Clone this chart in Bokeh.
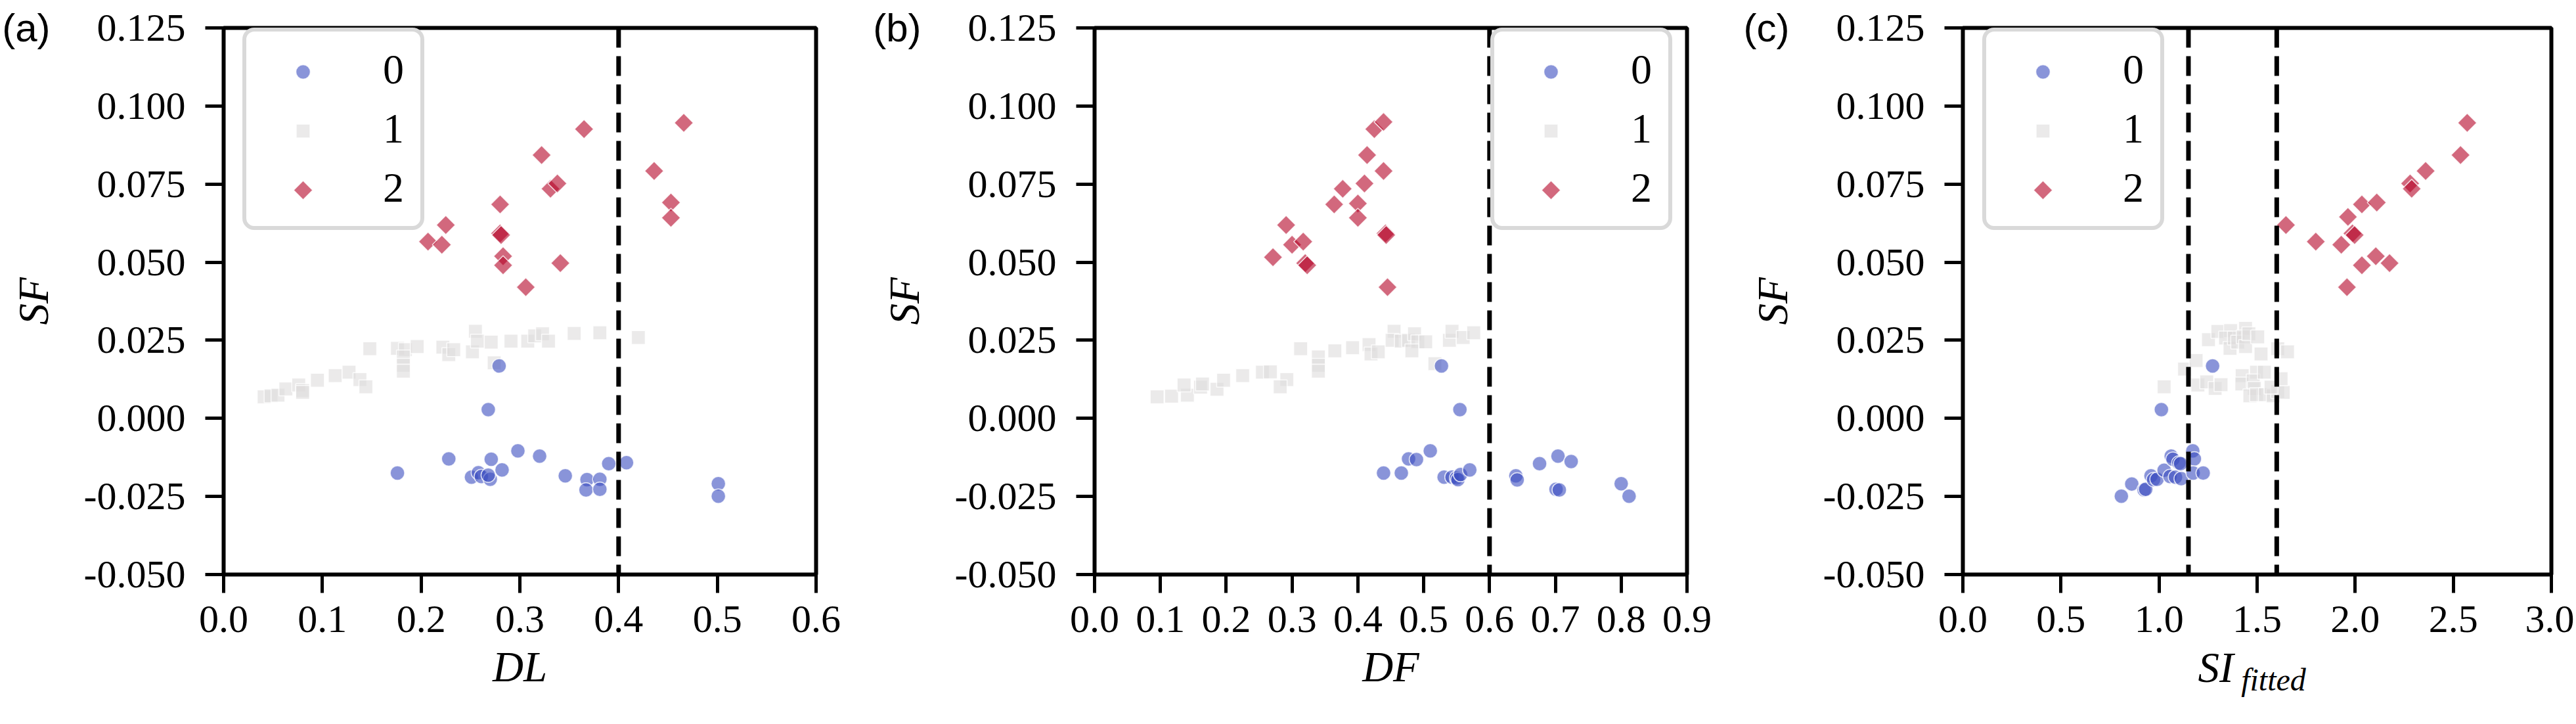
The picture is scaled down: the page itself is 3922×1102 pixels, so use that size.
import numpy as np
from bokeh.plotting import figure
from bokeh.models import (Range1d, FixedTicker, PrintfTickFormatter, Span,
                          Legend, LegendItem, LinearAxis, CustomJSTickFormatter)
from bokeh.layouts import row
from bokeh.embed import file_html
from bokeh.resources import INLINE

# ---------------- data ----------------
CLASS_LABELS = ["0", "1", "2"]
SF_TICKS = [-0.050, -0.025, 0.000, 0.025, 0.050, 0.075, 0.100, 0.125]

# panel (a): DL vs SF
A_X0 = [0.176, 0.228, 0.251, 0.258, 0.261, 0.270, 0.268, 0.271, 0.282, 0.268, 0.279,
        0.298, 0.320, 0.346, 0.368, 0.381, 0.367, 0.381, 0.390, 0.408, 0.501, 0.501]
A_Y0 = [-0.0175, -0.0130, -0.0188, -0.0174, -0.0186, -0.0195, -0.0182, -0.0131, -0.0165, 0.0028, 0.0168,
        -0.0104, -0.0121, -0.0184, -0.0196, -0.0195, -0.0229, -0.0227, -0.0145, -0.0142, -0.0209, -0.0249]
A_X1 = [0.041, 0.048, 0.055, 0.063, 0.076, 0.080, 0.080, 0.095, 0.113, 0.127, 0.138, 0.144,
        0.148, 0.176, 0.184, 0.196, 0.182, 0.182, 0.182, 0.222, 0.228, 0.233, 0.252, 0.255,
        0.257, 0.271, 0.274, 0.291, 0.308, 0.315, 0.323, 0.329, 0.355, 0.381, 0.420]
A_Y1 = [0.0069, 0.0072, 0.0074, 0.0094, 0.0107, 0.0089, 0.0083, 0.0122, 0.0137, 0.0148, 0.0124, 0.0101,
        0.0223, 0.0224, 0.0220, 0.0230, 0.0197, 0.0170, 0.0151, 0.0228, 0.0204, 0.0220, 0.0213, 0.0279,
        0.0247, 0.0244, 0.0178, 0.0247, 0.0247, 0.0264, 0.0271, 0.0247, 0.0272, 0.0274, 0.0259]
A_X2 = [0.207, 0.221, 0.225, 0.280, 0.280, 0.281, 0.283, 0.283, 0.306, 0.322, 0.331, 0.338,
        0.341, 0.365, 0.436, 0.453, 0.453, 0.466]
A_Y2 = [0.0566, 0.0556, 0.0619, 0.0685, 0.0592, 0.0587, 0.0519, 0.0490, 0.0420, 0.0843, 0.0735, 0.0752,
        0.0497, 0.0926, 0.0792, 0.0691, 0.0642, 0.0946]

# panel (b): DF vs SF
B_X0 = [0.439, 0.466, 0.477, 0.489, 0.510, 0.531, 0.543, 0.550, 0.552, 0.556, 0.570,
        0.555, 0.527, 0.640, 0.642, 0.676, 0.704, 0.701, 0.706, 0.724, 0.800, 0.812]
B_Y0 = [-0.0175, -0.0175, -0.0130, -0.0132, -0.0104, -0.0188, -0.0188, -0.0191, -0.0196, -0.0180, -0.0165,
        0.0028, 0.0168, -0.0184, -0.0197, -0.0145, -0.0121, -0.0227, -0.0229, -0.0138, -0.0209, -0.0249]
B_X1 = [0.095, 0.117, 0.141, 0.136, 0.161, 0.164, 0.186, 0.196, 0.225, 0.255, 0.267, 0.292,
        0.282, 0.313, 0.340, 0.340, 0.340, 0.365, 0.392, 0.417, 0.420, 0.431, 0.455, 0.452,
        0.466, 0.477, 0.486, 0.491, 0.503, 0.482, 0.517, 0.539, 0.543, 0.560, 0.576]
B_Y1 = [0.0069, 0.0071, 0.0074, 0.0107, 0.0100, 0.0110, 0.0093, 0.0122, 0.0137, 0.0148, 0.0149, 0.0124,
        0.0101, 0.0223, 0.0197, 0.0170, 0.0151, 0.0216, 0.0226, 0.0236, 0.0206, 0.0213, 0.0279, 0.0250,
        0.0247, 0.0250, 0.0271, 0.0245, 0.0245, 0.0216, 0.0175, 0.0250, 0.0279, 0.0259, 0.0274]
B_X2 = [0.271, 0.291, 0.300, 0.317, 0.320, 0.323, 0.364, 0.377, 0.400, 0.400, 0.410, 0.414,
        0.425, 0.439, 0.439, 0.442, 0.443, 0.445]
B_Y2 = [0.0516, 0.0619, 0.0556, 0.0566, 0.0497, 0.0490, 0.0685, 0.0735, 0.0688, 0.0642, 0.0752, 0.0843,
        0.0926, 0.0949, 0.0792, 0.0592, 0.0587, 0.0420]

# panel (c): SI_fitted vs SF
C_X0 = [0.808, 0.861, 0.924, 0.932, 0.959, 0.972, 0.990, 1.026, 1.062, 1.071, 1.056,
        1.084, 1.101, 1.113, 1.110, 1.172, 1.180, 1.174, 1.225, 1.012, 1.273]
C_Y0 = [-0.0249, -0.0210, -0.0229, -0.0227, -0.0184, -0.0196, -0.0195, -0.0166, -0.0121, -0.0131, -0.0186,
        -0.0188, -0.0143, -0.0193, -0.0145, -0.0104, -0.0130, -0.0175, -0.0175, 0.0028, 0.0168]
C_X1 = [1.026, 1.130, 1.189, 1.198, 1.243, 1.252, 1.286, 1.316, 1.300, 1.365, 1.441, 1.339,
        1.362, 1.384, 1.401, 1.429, 1.441, 1.458, 1.503, 1.520, 1.605, 1.655, 1.424, 1.422,
        1.497, 1.480, 1.486, 1.537, 1.463, 1.497, 1.542, 1.582, 1.605, 1.633, 1.622, 1.571]
C_Y1 = [0.0101, 0.0158, 0.0185, 0.0107, 0.0117, 0.0252, 0.0096, 0.0108, 0.0278, 0.0281, 0.0288, 0.0257,
        0.0224, 0.0257, 0.0244, 0.0261, 0.0230, 0.0271, 0.0261, 0.0206, 0.0223, 0.0213, 0.0137, 0.0110,
        0.0148, 0.0120, 0.0096, 0.0148, 0.0072, 0.0076, 0.0076, 0.0072, 0.0086, 0.0083, 0.0127, 0.0100]
C_X2 = [1.647, 1.799, 1.929, 1.958, 1.963, 1.986, 1.997, 2.034, 2.034, 2.105, 2.110, 2.175,
        2.280, 2.288, 2.359, 2.537, 2.571]
C_Y2 = [0.0619, 0.0566, 0.0556, 0.0420, 0.0645, 0.0592, 0.0587, 0.0685, 0.0490, 0.0519, 0.0691, 0.0497,
        0.0752, 0.0735, 0.0792, 0.0843, 0.0946]

A_TICKS = [0.0, 0.1, 0.2, 0.3, 0.4, 0.5, 0.6]
B_TICKS = [0.0, 0.1, 0.2, 0.3, 0.4, 0.5, 0.6, 0.7, 0.8, 0.9]
C_TICKS = [0.0, 0.5, 1.0, 1.5, 2.0, 2.5, 3.0]
A_LINES = [0.4]
B_LINES = [0.6]
C_LINES = [1.15, 1.6]

# ---------------- style ----------------
COLORS = ["#3b4cc0", "#dddcdc", "#b40426"]
SERIF = "Liberation Serif"
SANS = "Liberation Sans"
FRAME_H = 832
TOP_B, BOTTOM_B = 42, 212

MARKERS = [dict(marker="circle", size=22, angle=0.0),
           dict(marker="square", size=21, angle=0.0),
           dict(marker="square", size=20.5, angle=np.pi / 4)]

# legend geometry (pixels)
LEG_PAD, LEG_SPACING, LEG_ITEM_H = 15, 4, 86
LEG_GLYPH_W, LEG_STANDOFF, LEG_LABEL_W = 154, 39, 42
LEG_TOP = 12
LEG_H = 2 * LEG_PAD + 3 * LEG_ITEM_H + 2 * LEG_SPACING


def style_marks(k):
    return dict(marker=MARKERS[k]["marker"], size=MARKERS[k]["size"],
                angle=MARKERS[k]["angle"], fill_color=COLORS[k], fill_alpha=0.6,
                line_color="white", line_width=1.5, line_alpha=0.8)


def text_axis(tick, text, font, style, size, standoff):
    """An axis without line and ticks that only carries one text as its tick label."""
    ax = LinearAxis(ticker=FixedTicker(ticks=[tick]),
                    formatter=CustomJSTickFormatter(code="return %r;" % text),
                    axis_line_color=None, major_tick_line_color=None,
                    minor_tick_line_color=None, major_tick_out=0, major_tick_in=0,
                    minor_tick_out=0, major_label_standoff=standoff,
                    major_label_text_font=font, major_label_text_font_style=style,
                    major_label_text_font_size=size, major_label_text_color="black")
    return ax


def make_panel(tag, xs, ys, xticks, lines, xlabel, frame_w, border_l, border_r,
               leg_left):
    x0, x1 = xticks[0], xticks[-1]
    y0, y1 = SF_TICKS[0], SF_TICKS[-1]
    p = figure(output_backend="svg", toolbar_location=None,
               frame_width=frame_w, frame_height=FRAME_H,
               min_border_left=border_l, min_border_right=border_r,
               min_border_top=TOP_B, min_border_bottom=BOTTOM_B,
               x_range=Range1d(x0, x1), y_range=Range1d(y0, y1),
               background_fill_color="white", border_fill_color="white")
    p.xgrid.visible = False
    p.ygrid.visible = False
    p.outline_line_color = "black"
    p.outline_line_width = 6
    p.outline_line_alpha = 1.0

    p.xaxis.ticker = FixedTicker(ticks=xticks)
    p.xaxis.formatter = PrintfTickFormatter(format="%.1f")
    p.yaxis.ticker = FixedTicker(ticks=SF_TICKS)
    p.yaxis.formatter = PrintfTickFormatter(format="%.3f")
    for ax in (p.xaxis[0], p.yaxis[0]):
        ax.axis_line_color = None
        ax.major_tick_line_color = "black"
        ax.major_tick_line_width = 5
        ax.major_tick_out = 28
        ax.major_tick_in = 0
        ax.minor_tick_line_color = None
        ax.major_label_text_font = SERIF
        ax.major_label_text_font_size = "60px"
        ax.major_label_text_color = "black"
        ax.axis_label_text_font = SERIF
        ax.axis_label_text_font_style = "italic"
        ax.axis_label_text_font_size = "65px"
        ax.axis_label_text_color = "black"
    p.xaxis.major_label_standoff = 20
    p.yaxis.major_label_standoff = 30
    p.xaxis.axis_label_standoff = 14
    p.yaxis.axis_label_standoff = 38
    p.yaxis.axis_label = "SF"
    if xlabel is not None:
        p.xaxis.axis_label = xlabel

    for k in (1, 0, 2):
        p.scatter(xs[k], ys[k], **style_marks(k))

    for loc in lines:
        p.add_layout(Span(location=loc, dimension="height", line_color="black",
                          line_width=7, line_dash="30 13"))

    # legend: labels from Bokeh's Legend, glyphs drawn in the legend's glyph slots
    items = []
    for k in range(3):
        dummy = p.text(x=[], y=[], text=[])
        items.append(LegendItem(label=CLASS_LABELS[k], renderers=[dummy]))
    legend = Legend(items=items,
                    location=(leg_left, FRAME_H - LEG_TOP - LEG_H),
                    padding=LEG_PAD, spacing=LEG_SPACING,
                    glyph_width=LEG_GLYPH_W, glyph_height=LEG_ITEM_H,
                    label_height=LEG_ITEM_H, label_width=LEG_LABEL_W,
                    label_standoff=LEG_STANDOFF,
                    label_text_font=SERIF, label_text_font_size="64px",
                    label_text_color="black", label_text_baseline="middle",
                    border_line_color="#d9d9d9", border_line_width=6,
                    border_line_alpha=1.0,
                    background_fill_color="white", background_fill_alpha=0.0)
    try:
        legend.border_radius = 18
    except Exception:
        pass
    p.add_layout(legend)

    gx_px = leg_left + LEG_PAD + LEG_GLYPH_W / 2.0
    for k in range(3):
        gy_px = LEG_TOP + LEG_PAD + k * (LEG_ITEM_H + LEG_SPACING) + LEG_ITEM_H / 2.0 - 3
        gx = x0 + gx_px / frame_w * (x1 - x0)
        gy = y1 - gy_px / FRAME_H * (y1 - y0)
        p.scatter([gx], [gy], **style_marks(k))

    # panel tag, carried by an extra left axis so it can sit outside the frame
    p.add_layout(text_axis(y1, tag, SANS, "normal", "60px", -65), "left")
    return p


pa = make_panel("(a)", [A_X0, A_X1, A_X2], [A_Y0, A_Y1, A_Y2], A_TICKS, A_LINES,
                "DL", 902, 333, 84, 29)
pb = make_panel("(b)", [B_X0, B_X1, B_X2], [B_Y0, B_Y1, B_Y2], B_TICKS, B_LINES,
                "DF", 902, 335, 83, 603)
pc = make_panel("(c)", [C_X0, C_X1, C_X2], [C_Y0, C_Y1, C_Y2], C_TICKS, C_LINES,
                None, 896, 335, 35, 30)
# x label of (c): "SI" with subscript "fitted"
C_FRAME_W = 896
SI_X = 385.0 / C_FRAME_W * 3.0      # centre of "SI", px from frame left -> data
FIT_X = 473.0 / C_FRAME_W * 3.0     # centre of "fitted"
pc.add_layout(text_axis(SI_X, "SI", SERIF, "italic", "65px", 15), "below")
pc.add_layout(text_axis(FIT_X, "fitted", SERIF, "italic", "48px", -47), "below")

layout = row(pa, pb, pc)
open("out.html", "w").write(file_html(layout, INLINE))
